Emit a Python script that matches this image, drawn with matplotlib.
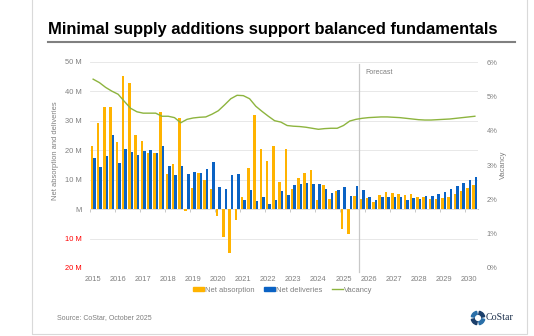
import numpy as np
import matplotlib
matplotlib.use("Agg")
import matplotlib.pyplot as plt
from matplotlib.patches import Patch, Rectangle, Wedge
from matplotlib.lines import Line2D

plt.rcParams["font.family"] = ["Liberation Sans", "DejaVu Sans"]

# ==========================
# Data (quarterly, 2015 Q1 - 2030 Q2, millions / percent)
# ==========================
years = [str(y) for y in range(2015, 2031)]

absorption = [21.6, 29.4, 34.7, 34.7, 22.8, 45.3, 42.8, 25.1, 23.0, 19.2,
              19.1, 33.1, 12.0, 15.2, 31.1, -0.5, 7.3, 12.2, 9.9, 6.8,
              -2.2, -9.4, -14.8, -3.8, 4.2, 14.0, 32.1, 20.3, 16.5, 21.5,
              9.2, 20.4, 6.9, 10.7, 12.3, 13.4, 3.0, 8.1, 3.6, 6.1,
              -6.8, -8.5, 4.4, 3.4, 3.9, 2.5, 4.8, 5.9, 5.6, 5.3,
              4.8, 5.1, 4.2, 4.1, 3.3, 3.3, 3.9, 4.2, 5.1, 6.1,
              7.2, 8.2]

deliveries = [17.3, 14.3, 18.0, 25.1, 15.6, 20.6, 19.5, 18.4, 19.9, 20.1,
              19.1, 21.4, 14.7, 11.6, 14.7, 11.8, 12.6, 12.4, 13.5, 16.1,
              7.6, 7.0, 11.7, 12.0, 3.1, 6.5, 2.8, 4.0, 1.8, 3.0,
              6.0, 4.9, 8.2, 8.5, 8.9, 8.5, 8.4, 7.0, 5.6, 6.4,
              7.5, 4.3, 7.7, 6.6, 4.0, 3.1, 4.0, 4.2, 4.0, 4.0,
              3.1, 3.8, 3.6, 4.3, 4.4, 5.0, 5.9, 6.8, 7.8, 8.8,
              9.9, 10.8]

vacancy = [5.50, 5.40, 5.26, 5.15, 5.06, 4.85, 4.65, 4.55, 4.51, 4.51,
           4.51, 4.42, 4.42, 4.38, 4.23, 4.33, 4.37, 4.39, 4.40, 4.48,
           4.58, 4.75, 4.93, 5.03, 5.02, 4.93, 4.71, 4.56, 4.42, 4.29,
           4.25, 4.15, 4.13, 4.12, 4.10, 4.07, 4.04, 4.06, 4.07, 4.07,
           4.15, 4.28, 4.33, 4.36, 4.38, 4.39, 4.40, 4.40, 4.39, 4.38,
           4.36, 4.34, 4.32, 4.31, 4.31, 4.32, 4.33, 4.34, 4.36, 4.38,
           4.40, 4.42]

left_ticks = [50, 40, 30, 20, 10, 0, -10, -20]
left_labels = ["50 M", "40 M", "30 M", "20 M", "10 M", "M", "10 M", "20 M"]
right_ticks = [0, 1, 2, 3, 4, 5, 6]
right_labels = ["0%", "1%", "2%", "3%", "4%", "5%", "6%"]
forecast_start = 42.5  # boundary between 2025 Q3 and Q4

# ==========================
# Styling
# ==========================
ORANGE = "#FFB300"
BLUE = "#0A62C4"
GREEN = "#8DB43E"
GREY = "#7F7F7F"
GRID = "#E4E4E4"
FS = 5.4

W, H = 534, 336
fig = plt.figure(figsize=(W / 100, H / 100), dpi=100)

# card border
fig.patches.append(Rectangle((32 / W, 2 / H), 495 / W, 1.2, transform=fig.transFigure,
                             facecolor="none", edgecolor="#D9D9D9", linewidth=0.8,
                             zorder=-10))

# title + rule
fig.text(48 / W, 1 - 34 / H, "Minimal supply additions support balanced fundamentals",
         fontsize=11.9, fontweight="bold", color="black", ha="left", va="baseline")
fig.add_artist(Line2D([48 / W, 515 / W], [1 - 42.3 / H, 1 - 42.3 / H],
                      transform=fig.transFigure, color="#808080", linewidth=1.5))

ax = fig.add_axes([90 / W, 1 - 268 / H, 388 / W, 206 / H])
x = np.arange(len(absorption))
n = len(absorption)

ax.bar(x - 0.2, absorption, width=0.4, color=ORANGE, zorder=3)
ax.bar(x + 0.2, deliveries, width=0.4, color=BLUE, zorder=3)

ax.set_xlim(-0.5, n - 0.5)
ax.set_ylim(-20, 50)
ax.set_yticks(left_ticks)
ax.set_yticklabels(left_labels)
for lab, val in zip(ax.get_yticklabels(), left_ticks):
    lab.set_color("red" if val < 0 else GREY)
ax.tick_params(axis="y", length=0, labelsize=FS, pad=6)
ax.grid(axis="y", color=GRID, linewidth=0.6, zorder=0)
ax.set_axisbelow(True)

ax.set_xticks(np.arange(0, n, 4))
ax.set_xticklabels(years)
ax.tick_params(axis="x", length=0, labelsize=FS, labelcolor=GREY, pad=6)
for s in ax.spines.values():
    s.set_visible(False)

ax.set_ylabel("Net absorption and deliveries", fontsize=FS, color=GREY)
ax.yaxis.set_label_coords(-0.08, 0.57)

# zero axis with year-boundary ticks
zero_ax = ax.secondary_xaxis(0, transform=ax.transData)
zero_ax.set_xticks(np.arange(-0.5, n, 4))
zero_ax.tick_params(axis="x", length=2, width=0.6, color="#BFBFBF", labelbottom=False)
zero_ax.spines["bottom"].set_color("#BFBFBF")
zero_ax.spines["bottom"].set_linewidth(0.7)

# forecast marker
ax.axvline(forecast_start, ymin=-0.02, ymax=0.99, color="#C8C8C8", linewidth=0.9,
           zorder=4, clip_on=False)
ax.text(forecast_start + 1.0, 46.5, "Forecast", fontsize=FS - 0.4, color=GREY,
        ha="left", va="center")

# vacancy on right axis
ax2 = ax.twinx()
ax2.plot(x, vacancy, color=GREEN, linewidth=1.0, zorder=5)
ax2.set_ylim(0, 6)
ax2.set_yticks(right_ticks)
ax2.set_yticklabels(right_labels)
ax2.tick_params(axis="y", length=0, labelsize=FS, labelcolor=GREY, pad=6)
for s in ax2.spines.values():
    s.set_visible(False)
ax2.set_ylabel("Vacancy", fontsize=FS, color=GREY, labelpad=2)

# legend
handles = [Patch(color=ORANGE, label="Net absorption"),
           Patch(color=BLUE, label="Net deliveries"),
           Line2D([], [], color=GREEN, linewidth=1.0, label="Vacancy")]
leg = fig.legend(handles=handles, loc="center", bbox_to_anchor=(283 / W, 1 - 290 / H),
                 ncol=3, frameon=False, fontsize=FS, handlelength=1.4, handleheight=0.5,
                 handletextpad=0.2, columnspacing=1.3)
for t in leg.get_texts():
    t.set_color(GREY)

# source
fig.text(57 / W, 1 - 318 / H, "Source: CoStar, October 2025", fontsize=FS - 0.4,
         color=GREY, ha="left", va="center")

# CoStar logo
logo_ax = fig.add_axes([470 / W, 1 - 326 / H, 16 / W, 16 / H])
logo_ax.set_xlim(-1, 1)
logo_ax.set_ylim(-1, 1)
logo_ax.set_aspect("equal")
logo_ax.axis("off")
for k, c in enumerate(["#1B3F6B", "#2A6FA8", "#1B3F6B", "#2A6FA8"]):
    logo_ax.add_patch(Wedge((0, 0), 0.85, 90 * k + 12, 90 * k + 78, width=0.38, color=c))
fig.text(486 / W, 1 - 318 / H, "CoStar", fontsize=7.2, family="Liberation Serif",
         color="#1B2F4B", ha="left", va="center")

fig.savefig("out.png", dpi=100, facecolor="white")
